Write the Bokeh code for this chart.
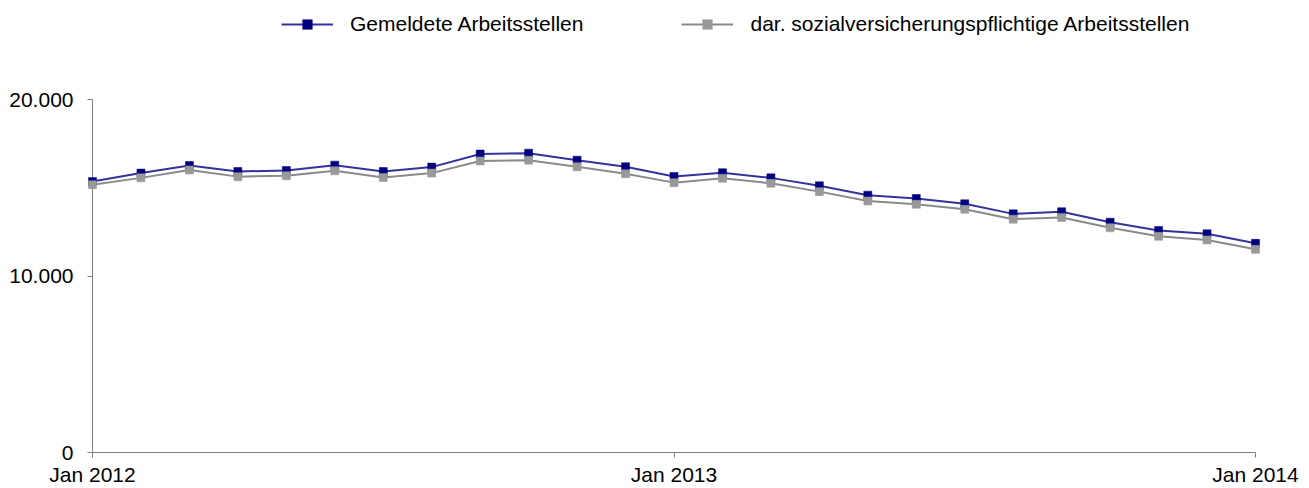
from bokeh.plotting import figure
from bokeh.models import Range1d, FixedTicker, Legend, LegendItem
from bokeh.embed import file_html
from bokeh.resources import INLINE

# ---- data ----
months = ["2012-01", "2012-02", "2012-03", "2012-04", "2012-05", "2012-06",
          "2012-07", "2012-08", "2012-09", "2012-10", "2012-11", "2012-12",
          "2013-01", "2013-02", "2013-03", "2013-04", "2013-05", "2013-06",
          "2013-07", "2013-08", "2013-09", "2013-10", "2013-11", "2013-12",
          "2014-01"]
gemeldete = [15350, 15830, 16260, 15920, 15980, 16280, 15920, 16170, 16910,
             16960, 16560, 16190, 15640, 15850, 15560, 15110, 14580, 14390,
             14090, 13520, 13640, 13050, 12580, 12390, 11850]
sozialvers = [15170, 15560, 16010, 15630, 15680, 15960, 15580, 15830, 16520,
              16560, 16190, 15790, 15290, 15540, 15250, 14780, 14250, 14060,
              13780, 13220, 13320, 12730, 12250, 12040, 11510]
series_names = ["Gemeldete Arbeitsstellen",
                "dar. sozialversicherungspflichtige Arbeitsstellen"]
x_tick_months = ["2012-01", "2013-01", "2014-01"]
x_tick_labels = ["Jan 2012", "Jan 2013", "Jan 2014"]
y_ticks = [0, 10000, 20000]
y_tick_labels = ["0", "10.000", "20.000"]

x = list(range(len(months)))
x_tick_pos = [months.index(m) for m in x_tick_months]

FONT = "Liberation Sans"
FS = "21px"
AXIS_COLOR = "#808080"

W, H = 1309, 488
BL, BR, BB = 87, 49, 36
AXIS_TOP = 99          # pixel row of the top y tick
frame_w = W - BL - BR
frame_h = H - BB
n = x[-1] - x[0]
pad = 5 * n / (frame_w - 10)
y_end = y_ticks[-1] * frame_h / (frame_h - AXIS_TOP)

p = figure(width=W, height=H, output_backend="svg", toolbar_location=None,
           x_range=Range1d(x[0] - pad, x[-1] + pad),
           y_range=Range1d(y_ticks[0], y_end),
           min_border_left=BL, min_border_right=BR,
           min_border_top=0, min_border_bottom=BB)
p.outline_line_color = None
p.xgrid.visible = False
p.ygrid.visible = False
p.background_fill_color = "white"
p.border_fill_color = "white"

# x axis
p.xaxis.ticker = FixedTicker(ticks=x_tick_pos)
p.xaxis.major_label_overrides = {pos: lab for pos, lab in zip(x_tick_pos, x_tick_labels)}
p.xaxis.bounds = (x[0], x[-1])
p.xaxis.axis_line_color = AXIS_COLOR
p.xaxis.major_tick_line_color = AXIS_COLOR
p.xaxis.major_tick_out = 5
p.xaxis.major_tick_in = 0
p.xaxis.minor_tick_line_color = None
p.xaxis.major_label_text_font = FONT
p.xaxis.major_label_text_font_size = FS
p.xaxis.major_label_text_color = "black"
p.xaxis.major_label_standoff = 5

# y axis
p.yaxis.ticker = FixedTicker(ticks=y_ticks)
p.yaxis.major_label_overrides = {t: lab for t, lab in zip(y_ticks, y_tick_labels)}
p.yaxis.axis_line_color = None
p.yaxis.major_tick_line_color = AXIS_COLOR
p.yaxis.major_tick_out = 0
p.yaxis.major_tick_in = 5
p.yaxis.minor_tick_line_color = None
p.yaxis.major_label_text_font = FONT
p.yaxis.major_label_text_font_size = FS
p.yaxis.major_label_text_color = "black"
p.yaxis.major_label_standoff = 14

# vertical axis line at the first month, from 0 to the top tick
p.segment(x0=[x[0]], y0=[y_ticks[0]], x1=[x[0]], y1=[y_ticks[-1]],
          line_color=AXIS_COLOR, line_width=1)

# series
l1 = p.line(x, gemeldete, line_color="#333399", line_width=2)
m1 = p.scatter(x, gemeldete, marker="square", size=8, fill_color="#000080",
               line_color="#000080", line_width=0.5)
l2 = p.line(x, sozialvers, line_color="#8a8a8a", line_width=2)
m2 = p.scatter(x, sozialvers, marker="square", size=8, fill_color="#999999",
               line_color="#999999", line_width=0.5)

legend = Legend(items=[LegendItem(label=series_names[0], renderers=[l1, m1]),
                       LegendItem(label=series_names[1], renderers=[l2, m2])],
                orientation="horizontal", location=(194, frame_h - 36),
                glyph_width=52, glyph_height=24, label_height=24,
                label_standoff=17, spacing=98, padding=0, margin=0,
                border_line_color=None, background_fill_alpha=0,
                label_text_font=FONT, label_text_font_size=FS,
                label_text_color="black")
p.add_layout(legend, "center")

open("out.html", "w").write(file_html(p, INLINE))
